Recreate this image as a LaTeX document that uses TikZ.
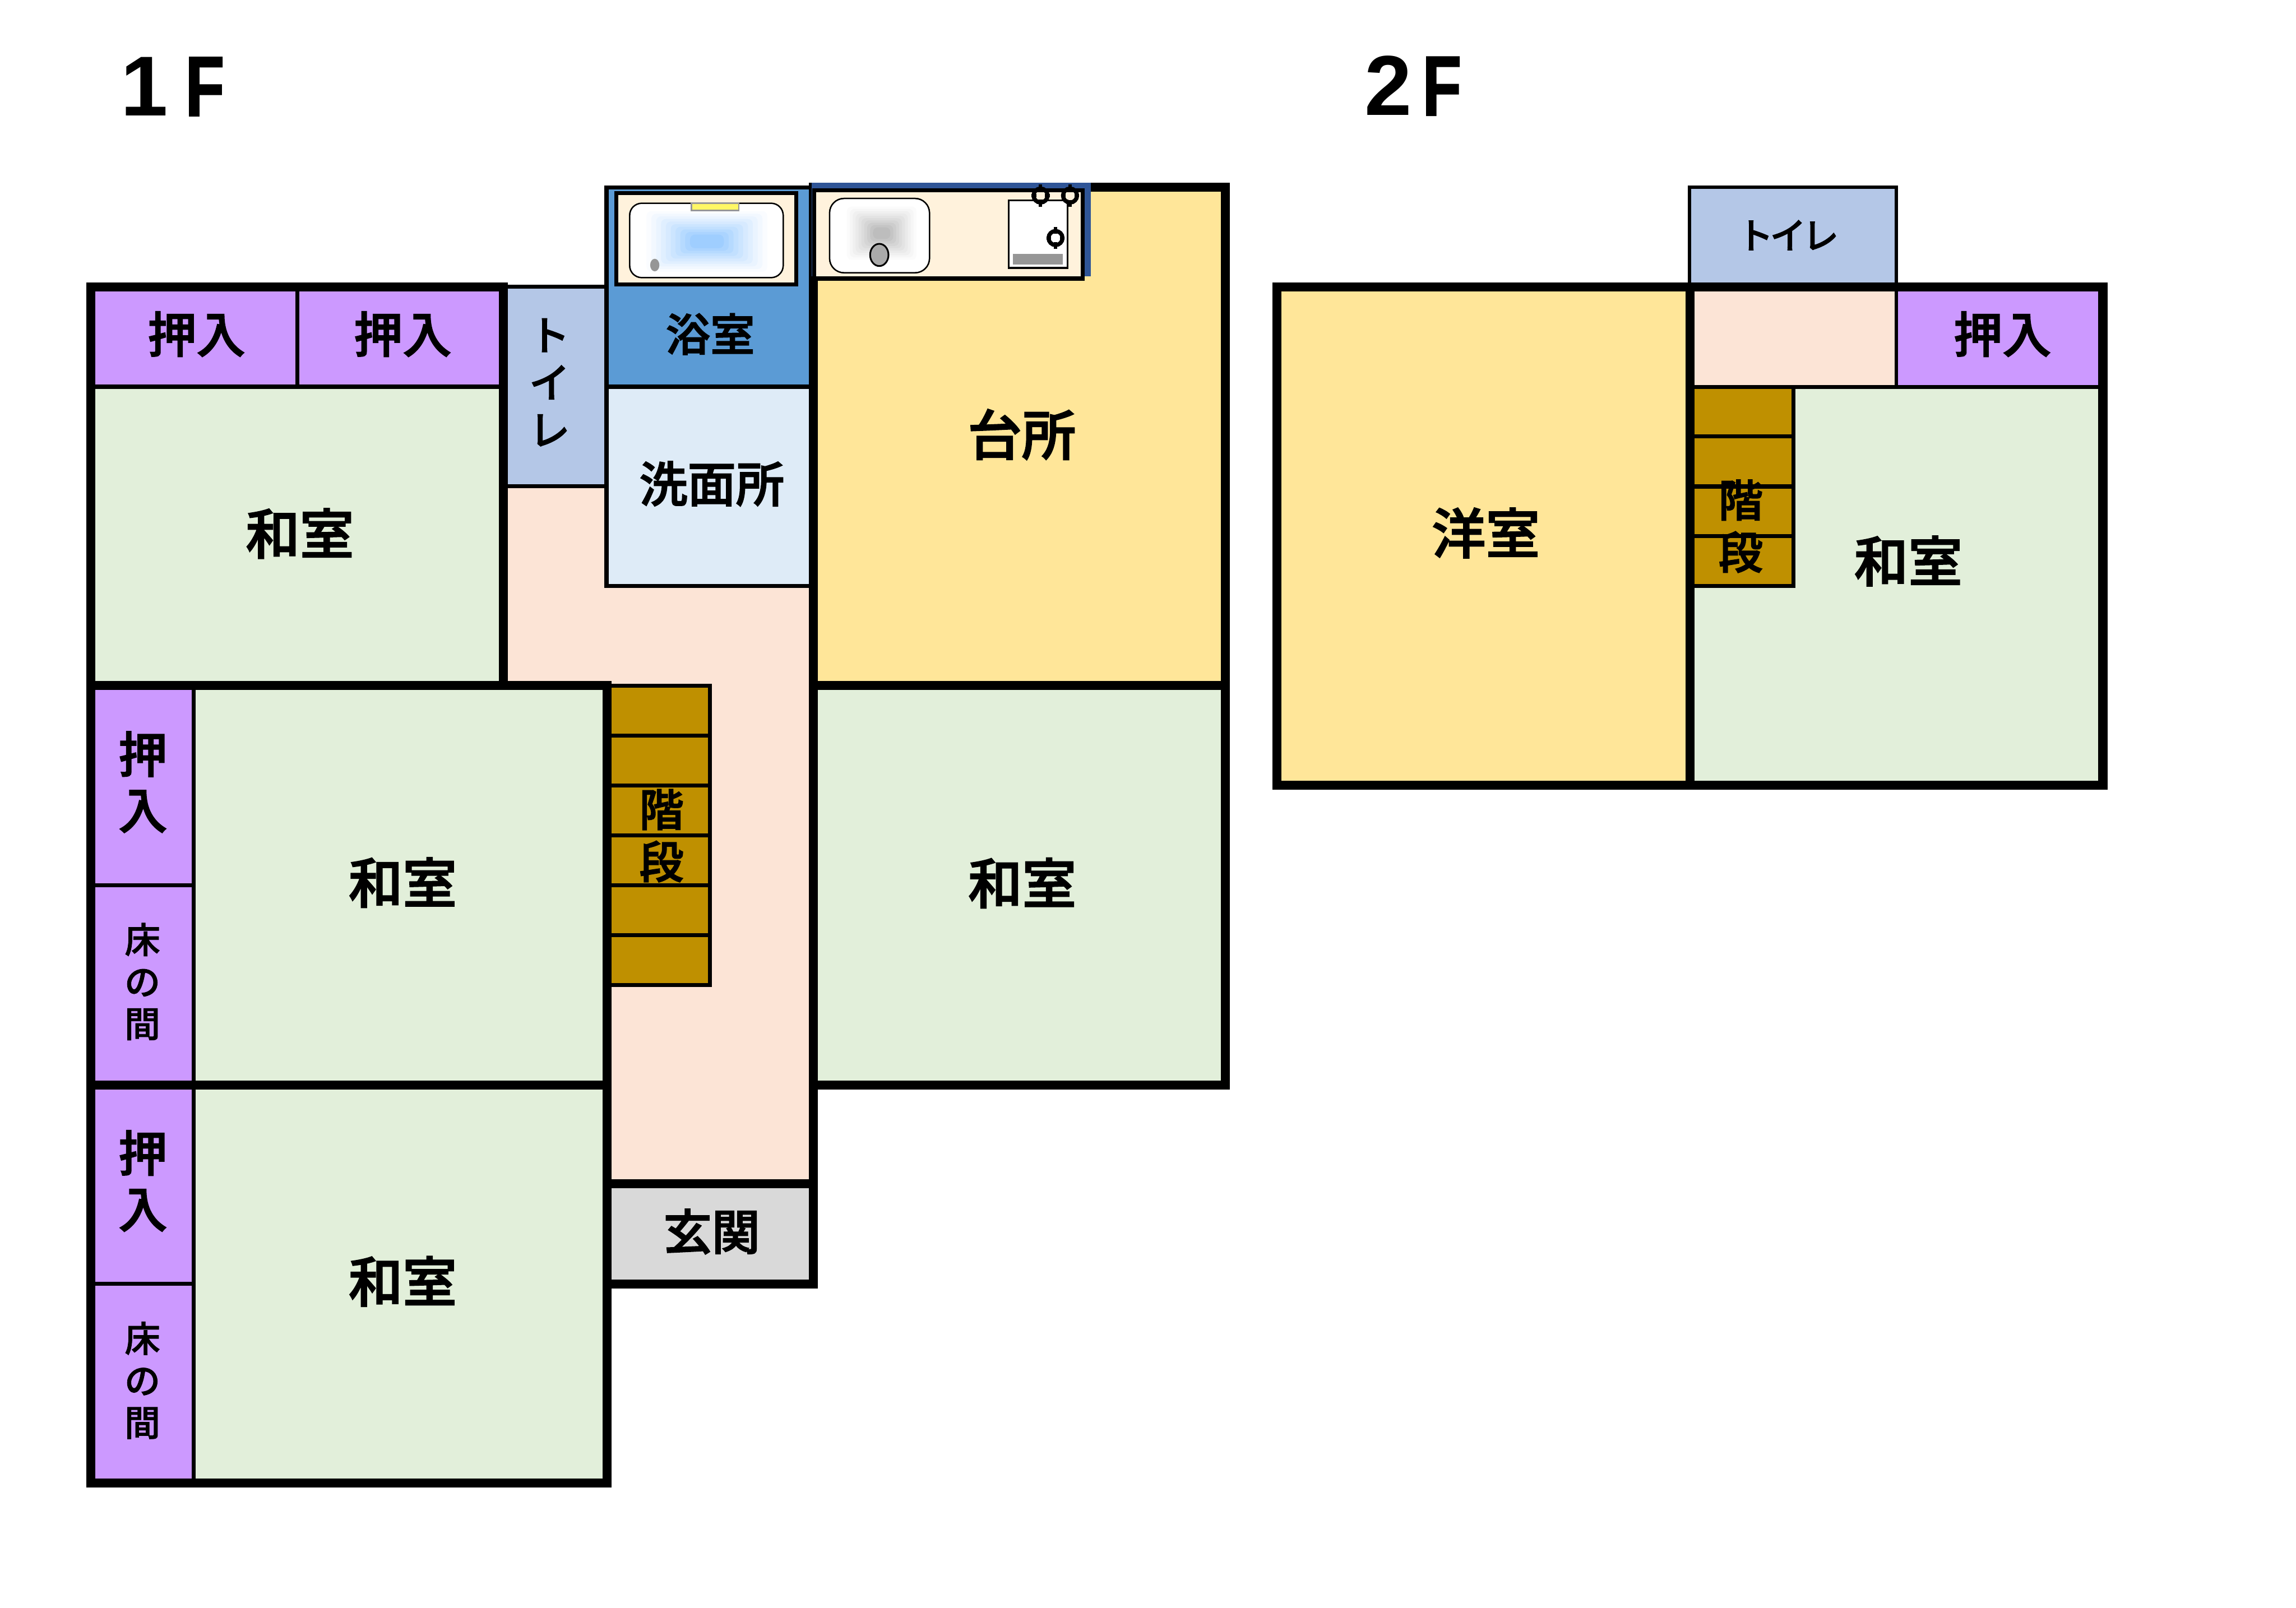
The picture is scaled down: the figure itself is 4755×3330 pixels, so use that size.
\documentclass[tikz,border=0pt]{standalone}
\usepackage{fontspec}
\newfontfamily\jp{Noto Sans CJK JP Medium}[FakeBold=2.2]
\newfontfamily\jpm{Noto Sans CJK JP Medium}[FakeBold=1.3]
\newfontfamily\lib{Liberation Sans}
\newfontfamily\libF{Liberation Sans}[FakeStretch=0.75,FakeBold=1.5]
\newcommand\fpx[2]{\fontsize{\the\dimexpr 0.2845pt*#1\relax}{\the\dimexpr 0.2845pt*#2\relax}\selectfont}
\definecolor{green1}{HTML}{E2EFDA}
\definecolor{purple1}{HTML}{CC99FF}
\definecolor{yellow1}{HTML}{FFE699}
\definecolor{peach}{HTML}{FCE4D6}
\definecolor{toilet}{HTML}{B4C7E7}
\definecolor{bath}{HTML}{5B9BD5}
\definecolor{wash}{HTML}{DEEBF7}
\definecolor{stair}{HTML}{BF9000}
\definecolor{genkan}{HTML}{D9D9D9}
\definecolor{cream}{HTML}{FFF2DC}
\definecolor{unitblue}{HTML}{2F5597}
\definecolor{tubc}{HTML}{9FCEFF}
\definecolor{sinkc}{HTML}{BDBDBD}
\definecolor{fixgray}{HTML}{969696}
\tikzset{
  wall/.style={draw=black,line width=5.3pt},
  thinwall/.style={draw=black,line width=2.4pt},
  fine/.style={draw=black,line width=0.75pt},
  lbl/.style={inner sep=0pt,align=center},
  big/.style={lbl,font=\jp\fpx{112}{112}},
  oshi/.style={lbl,font=\jp\fpx{101}{116}},
  tokon/.style={lbl,font=\jpm\fpx{74}{87}},
  kai/.style={lbl,font=\jp\fpx{92}{108}},
  title/.style={inner sep=0pt,anchor=base west,font=\lib\bfseries\fpx{176}{176}},
  burner/.pic={
    \draw[line width=2.4pt] (0,0) circle (14.5);
    \draw[line width=2pt] (0,-23) -- (0,-9) (0,9) -- (0,23) (-19,0) -- (-9,0) (9,0) -- (19,0);
  }
}
\begin{document}
\begin{tikzpicture}[x=0.01cm,y=-0.01cm]
\useasboundingbox (0,0) rectangle (4755,3330);
\fill[white] (0,0) rectangle (4755,3330);
% ---- 1F fills
\fill[peach] (1043,1007) rectangle (1257,1420);
\fill[peach] (1257,1214) rectangle (1684,2452);
\fill[green1] (188,801) rectangle (1043,1420);
\fill[purple1] (188,594) rectangle (1043,801);
\fill[toilet] (1043,594) rectangle (1256,1007);
\fill[bath] (1256,388) rectangle (1684,801);
\fill[wash] (1256,801) rectangle (1684,1214);
\fill[yellow1] (1684,388) rectangle (2538,1420);
\fill[green1] (1684,1420) rectangle (2538,2247);
\fill[green1] (401,1420) rectangle (1257,2247);
\fill[purple1] (188,1420) rectangle (401,2247);
\fill[green1] (401,2247) rectangle (1257,3072);
\fill[purple1] (188,2247) rectangle (401,3072);
\fill[genkan] (1257,2452) rectangle (1684,2660);
% stairs 1F
\draw[thinwall,fill=stair] (1257,1420) rectangle (1470,2040);
\draw[thinwall] (1257,1523.5) -- (1470,1523.5) (1257,1627) -- (1470,1627) (1257,1730) -- (1470,1730) (1257,1833.5) -- (1470,1833.5) (1257,1937) -- (1470,1937);
% thin walls 1F
\draw[thinwall] (188,801) -- (1043,801) (615.5,594) -- (615.5,801);
\draw[thinwall] (1043,594) rectangle (1256,1007);
\draw[thinwall] (1256,388) rectangle (1684,801);
\draw[thinwall] (1256,801) rectangle (1684,1214);
\draw[thinwall] (401.5,1420) -- (401.5,3072);
\draw[thinwall] (188,1834) -- (401.5,1834) (188,2659) -- (401.5,2659);
% thick walls 1F
\draw[wall] (188,594) rectangle (1043,1420);
\draw[wall] (188,1420) rectangle (1257,2247);
\draw[wall] (188,2247) rectangle (1257,3072);
\draw[wall] (1684,388) rectangle (2538,1420);
\draw[wall] (1684,1420) rectangle (2538,2247);
\draw[wall] (1684,2247) -- (1684,2660);
\draw[wall] (1257,2452) rectangle (1684,2660);
% bath unit
\draw[thinwall,fill=cream] (1276,400) rectangle (1649,589);
\draw[fine,fill=white,rounded corners=0.25cm] (1304,421) rectangle (1622,575);
\foreach \k in {0,...,10}{
  \pgfmathsetmacro\p{100*(\k/10)^1.25}
  \pgfmathsetmacro\w{135-\k*10}
  \pgfmathsetmacro\h{68-\k*5.4}
  \fill[tubc!\p!white,rounded corners=0.1cm] (1464-\w,500-\h) rectangle (1464+\w,500+\h);
}
\draw[fine,rounded corners=0.25cm] (1304,421) rectangle (1622,575);
\draw[draw=fixgray,line width=0.9pt,fill=yellow!60!white] (1432,421) rectangle (1530,436);
\fill[fixgray] (1356,549) ellipse (9.5 and 13);
% kitchen unit
\fill[unitblue] (1681,378) rectangle (2259,572);
\draw[thinwall,fill=cream] (1686,394) rectangle (2242,577);
\draw[fine,fill=white,rounded corners=0.3cm] (1718,411) rectangle (1925,565);
\foreach \k in {0,...,10}{
  \pgfmathsetmacro\p{100*(\k/10)^1.25}
  \pgfmathsetmacro\w{78-\k*6}
  \pgfmathsetmacro\h{60-\k*4.8}
  \fill[sinkc!\p!white,rounded corners=0.1cm] (1826-\w,483-\h) rectangle (1826+\w,483+\h);
}
\draw[fine,rounded corners=0.3cm] (1718,411) rectangle (1925,565);
\draw[draw=black,line width=1pt,fill=sinkc!90!black] (1821,528) ellipse (19 and 23);
\draw[draw=black,line width=1.2pt,fill=white] (2089,415) rectangle (2211,555);
\fill[fixgray] (2098,526) rectangle (2201,548);
\pic at (2155,405) {burner};
\pic at (2216,405) {burner};
\pic at (2186,493) {burner};
% ---- 2F
\fill[yellow1] (2645,594) rectangle (3500,1626);
\fill[green1] (3500,802) rectangle (4355,1626);
\fill[peach] (3500,594) rectangle (3927,802);
\fill[purple1] (3927,594) rectangle (4355,802);
\draw[draw=black,line width=1.9pt,fill=toilet] (3499,388) rectangle (3927,594);
\draw[thinwall,fill=stair] (3500,802) rectangle (3714,1214);
\draw[thinwall] (3500,904) -- (3714,904) (3500,1007.5) -- (3714,1007.5) (3500,1110) -- (3714,1110);
\draw[line width=1.9pt] (3927,594) -- (3927,802);
\draw[thinwall] (3500,802) -- (4355,802);
\draw[wall] (2645,594) rectangle (4355,1626);
\draw[wall] (3500,594) -- (3500,1626);
% ---- labels
\node[title] (t1) at (250,240) {1\kern 0.20em{\libF\bfseries F}};
\node[title] (t2) at (2826,239) {2\kern 0.12em{\libF\bfseries F}};
\node[oshi] (o1) at (407,692) {押入};
\node[oshi] (o2) at (834,692) {押入};
\node[lbl,font=\jpm\fpx{85}{98}] (wc1) at (1138,792) {ト\\イ\\レ};
\node[lbl,font=\jp\fpx{92}{92}] (ba) at (1471,692) {浴室};
\node[lbl,font=\jp\fpx{100}{100}] (se) at (1474,1002) {洗面所};
\node[big] (w1) at (621,1105) {和室};
\node[big] (dai) at (2116,900) {台所};
\node[big] (w2) at (2117,1829) {和室};
\node[big] (w3) at (834,1828) {和室};
\node[big] (w4) at (834,2654) {和室};
\node[oshi] (o3) at (296,1620) {押\\入};
\node[oshi] (o4) at (296,2446) {押\\入};
\node[tokon] (k1) at (295,2033) {床\\の\\間};
\node[tokon] (k2) at (295,2859) {床\\の\\間};
\node[kai] (st1) at (1370,1731) {階\\段};
\node[lbl,font=\jp\fpx{100}{100}] (ge) at (1474,2551) {玄関};
\node[big] (yo) at (3077,1104) {洋室};
\node[big] (w5) at (3952,1162) {和室};
\node[oshi] (o5) at (4147,692) {押入};
\node[kai] (st2) at (3605,1090) {階\\段};
\node[lbl,font=\jpm\fpx{75}{75}] (wc2) at (3703,487) {ト\kern-0.1em イ\kern-0.1em レ};
\end{tikzpicture}
\end{document}
